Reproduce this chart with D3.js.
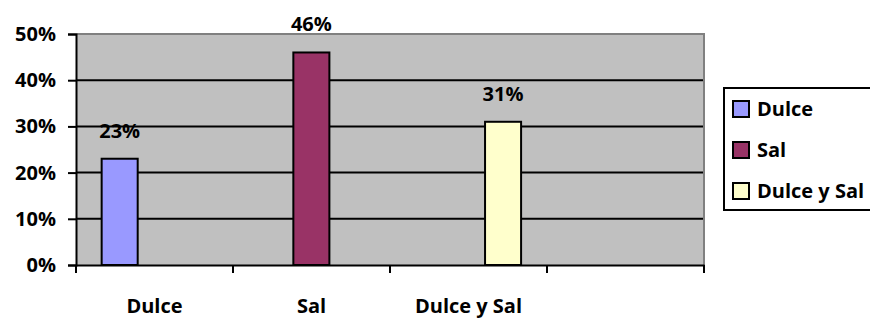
<!DOCTYPE html>
<html>
<head>
<meta charset="utf-8">
<script src="https://cdn.jsdelivr.net/npm/d3@7"></script>
<style>
  body { margin: 0; background: #fff; }
  text { font-family: "Open Sans", sans-serif; font-weight: bold; fill: #000; }
</style>
</head>
<body>
<div id="chart"></div>
<script>
// values
const categories = ["Dulce", "Sal", "Dulce y Sal", ""];
const seriesNames = ["Dulce", "Sal", "Dulce y Sal"];
const seriesValues = [0.23, 0.46, 0.31];
const seriesColors = ["#9999FF", "#993366", "#FFFFCC"];
const yTicks = [0, 0.1, 0.2, 0.3, 0.4, 0.5];

const margin = {top: 34, right: 166, bottom: 53, left: 76},
    width = 870 - margin.left - margin.right,
    height = 318 - margin.top - margin.bottom;
const fontSize = "20px";

const svg = d3.select("#chart").append("svg")
    .attr("width", 870)
    .attr("height", 318);
const g = svg.append("g")
    .attr("transform", "translate(" + margin.left + "," + margin.top + ")");

// scales
let x = d3.scaleBand().domain(categories).range([0, width]);
let xBar = d3.scaleBand().domain(seriesNames).range([0, width])
    .paddingInner(0.812).paddingOuter(0.544).align(0.123);
let y = d3.scaleLinear().domain([0, 0.5]).range([height, 0]);

// plot area background
g.append("rect")
  .attr("width", width)
  .attr("height", height)
  .attr("fill", "#C0C0C0");

// gridlines
g.selectAll(".grid")
  .data(yTicks.filter(d => d > 0 && d < 0.5))
  .enter().append("line")
  .attr("x1", 0).attr("x2", width)
  .attr("y1", d => y(d)).attr("y2", d => y(d))
  .attr("stroke", "#000").attr("stroke-width", 2);

// top + right border (gray)
g.append("path")
  .attr("d", "M0," + y(0.5) + "H" + width + "V" + height)
  .attr("fill", "none").attr("stroke", "#808080").attr("stroke-width", 2);

// bars
g.selectAll(".bar")
  .data(seriesNames)
  .enter().append("rect")
  .attr("class", "bar")
  .attr("x", d => xBar(d))
  .attr("width", xBar.bandwidth())
  .attr("y", (d, i) => y(seriesValues[i]))
  .attr("height", (d, i) => height - y(seriesValues[i]))
  .attr("fill", (d, i) => seriesColors[i])
  .attr("stroke", "#000").attr("stroke-width", 2);

// data labels
g.selectAll(".lbl")
  .data(seriesNames)
  .enter().append("text")
  .attr("x", d => xBar(d) + xBar.bandwidth() / 2)
  .attr("y", (d, i) => y(seriesValues[i]) - 21)
  .attr("text-anchor", "middle")
  .style("font-size", fontSize)
  .text((d, i) => d3.format(".0%")(seriesValues[i]));

// y axis
let yAxis = g.append("g")
  .call(d3.axisLeft(y).tickValues(yTicks).tickFormat(d3.format(".0%")).tickSize(8).tickPadding(12));
yAxis.select(".domain").attr("stroke", "#000").attr("stroke-width", 2);
yAxis.selectAll(".tick line").attr("stroke", "#000").attr("stroke-width", 2);
yAxis.selectAll("text").style("font-size", fontSize).attr("font-family", null).attr("fill", "#000");

// x axis: labels at band centres, ticks at band edges
let xAxis = g.append("g")
  .attr("transform", "translate(0," + height + ")")
  .call(d3.axisBottom(x).tickSize(0));
xAxis.select(".domain").attr("stroke", "#000").attr("stroke-width", 2);
xAxis.selectAll("text")
  .attr("y", 48).attr("dy", null)
  .style("font-size", fontSize).attr("font-family", null).attr("fill", "#000");
xAxis.selectAll(".edge")
  .data(categories.map(d => x(d)).concat([width]))
  .enter().append("line")
  .attr("x1", d => d).attr("x2", d => d)
  .attr("y1", 0).attr("y2", 8)
  .attr("stroke", "#000").attr("stroke-width", 2);

// legend (runs off the right edge like the original)
let legend = svg.append("g").attr("transform", "translate(724,88)");
legend.append("rect")
  .attr("width", 175).attr("height", 122)
  .attr("fill", "#fff").attr("stroke", "#000").attr("stroke-width", 2);
let items = legend.selectAll(".item")
  .data(seriesNames)
  .enter().append("g")
  .attr("transform", (d, i) => "translate(9," + (13 + i * 41) + ")");
items.append("rect")
  .attr("width", 16).attr("height", 16)
  .attr("fill", (d, i) => seriesColors[i])
  .attr("stroke", "#000").attr("stroke-width", 2);
items.append("text")
  .attr("x", 24).attr("y", 15)
  .style("font-size", fontSize)
  .text(d => d);
</script>
</body>
</html>
